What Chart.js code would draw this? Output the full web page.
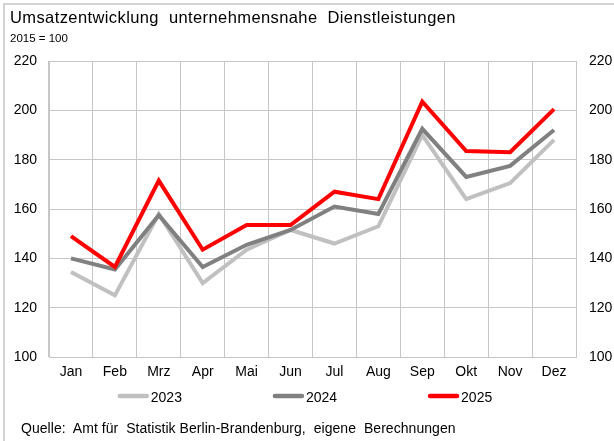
<!DOCTYPE html>
<html>
<head>
<meta charset="utf-8">
<script src="https://cdn.jsdelivr.net/npm/chart.js@4"></script>
<style>
  html, body { margin: 0; padding: 0; background: #fff; }
  body { width: 614px; height: 441px; position: relative; overflow: hidden;
         font-family: "Liberation Sans", Arial, sans-serif; color: #000; }
  #frame { position: absolute; left: 3px; top: 3px; right: -10px; bottom: -10px;
           border-top: 2px solid #d3d3d3; border-left: 2px solid #d3d3d3; }
  #title { position: absolute; left: 10px; top: 8px; font-size: 16.5px; letter-spacing: 0.4px; white-space: pre; }
  #sub { position: absolute; left: 10px; top: 32px; font-size: 11.5px; white-space: pre; }
  #source { position: absolute; left: 21px; top: 420px; font-size: 14px; letter-spacing: 0.05px; white-space: pre; }
  #wrap { position: absolute; left: 0; top: 0; width: 614px; height: 441px; }
</style>
</head>
<body>
<div id="frame"></div>
<div id="wrap"><canvas id="chart"></canvas></div>
<div id="title">Umsatzentwicklung  unternehmensnahe  Dienstleistungen</div>
<div id="sub">2015 = 100</div>
<div id="source">Quelle:  Amt für  Statistik Berlin-Brandenburg,  eigene  Berechnungen</div>
<script>
// Monatswerte, 2015 = 100
const months = ['Jan', 'Feb', 'Mrz', 'Apr', 'Mai', 'Jun', 'Jul', 'Aug', 'Sep', 'Okt', 'Nov', 'Dez'];
const values2023 = [134.5, 125, 158, 130, 143.5, 151.5, 146, 153, 190, 164, 170.5, 188];
const values2024 = [140, 135.5, 157.5, 136.5, 145.5, 151.5, 161, 158, 192.5, 173, 177.5, 192];
const values2025 = [149, 136.5, 171.5, 143.5, 153.5, 153.5, 167, 164, 203.5, 183.5, 183, 200.5];
const yTicks = [100, 120, 140, 160, 180, 200, 220];

const FONT = '"Liberation Sans", Arial, sans-serif';
const gridColor = '#c6c6c6';

// legend drawn as short thick line samples, like the Excel original
const lineLegend = {
    id: 'lineLegend',
    afterDraw(chart) {
        const ctx = chart.ctx;
        const sample = 31, gap = 2, spacing = 91, y = 396;
        ctx.save();
        ctx.font = '14px ' + FONT;
        const items = chart.data.datasets.map((ds) => ({
            ds, w: sample + gap + ctx.measureText(ds.label).width,
        }));
        const total = items.reduce((s, it) => s + it.w, 0) + spacing * (items.length - 1);
        let x = 305 - total / 2;
        items.forEach((it) => {
            ctx.strokeStyle = it.ds.borderColor;
            ctx.lineWidth = 4.5;
            ctx.lineCap = 'round';
            ctx.beginPath();
            ctx.moveTo(x + 2, y);
            ctx.lineTo(x + sample - 2, y);
            ctx.stroke();
            ctx.fillStyle = '#000';
            ctx.textBaseline = 'middle';
            ctx.fillText(it.ds.label, x + sample + gap, y + 2);
            x += it.w + spacing;
        });
        ctx.restore();
    },
};

const tickFont = {family: FONT, size: 14};

new Chart(document.getElementById('chart'), {
    type: 'line',
    data: {
        labels: months,
        datasets: [
            {label: '2023', data: values2023, borderColor: '#c0c0c0', order: 3},
            {label: '2024', data: values2024, borderColor: '#808080', order: 2},
            {label: '2025', data: values2025, borderColor: '#ff0000', order: 1},
        ],
    },
    options: {
        responsive: true,
        maintainAspectRatio: false,
        animation: false,
        layout: {padding: {top: 61, bottom: 54, left: 0, right: 0}},
        elements: {
            line: {borderWidth: 4, tension: 0, fill: false},
            point: {radius: 0, hoverRadius: 0},
        },
        scales: {
            x: {
                offset: true,
                grid: {color: gridColor, offset: true, drawTicks: false},
                border: {color: gridColor},
                ticks: {color: '#000', font: tickFont, padding: 7, maxRotation: 0},
                afterFit: (scale) => { scale.height = 30; },
            },
            y: {
                position: 'left',
                min: 100,
                max: 220,
                afterBuildTicks: (scale) => { scale.ticks = yTicks.map((v) => ({value: v})); },
                grid: {color: gridColor, drawTicks: false},
                border: {color: gridColor},
                ticks: {color: '#000', font: tickFont, padding: 12},
                afterFit: (scale) => { scale.width = 49; },
            },
            y2: {
                position: 'right',
                min: 100,
                max: 220,
                afterBuildTicks: (scale) => { scale.ticks = yTicks.map((v) => ({value: v})); },
                grid: {display: false, drawTicks: false},
                border: {color: gridColor},
                ticks: {color: '#000', font: tickFont, padding: 13},
                afterFit: (scale) => { scale.width = 38; },
            },
        },
        plugins: {
            legend: {display: false},
            tooltip: {enabled: false},
        },
    },
    plugins: [lineLegend],
});
</script>
</body>
</html>
